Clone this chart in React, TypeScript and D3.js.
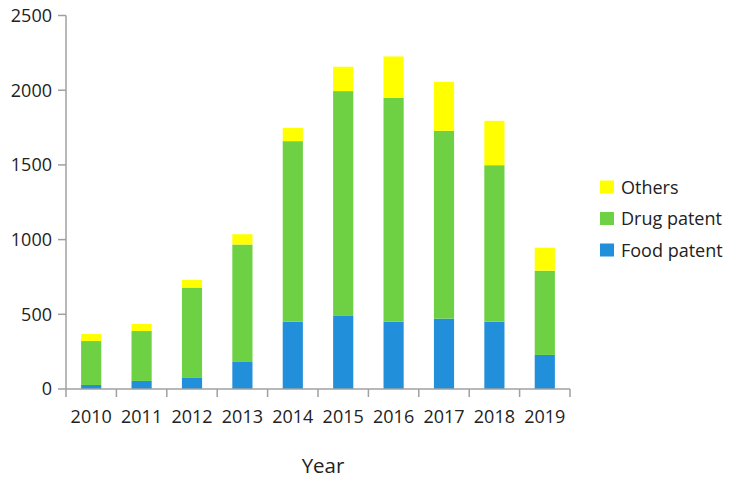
import React from "react";
import * as d3 from "d3";

// values
const years = ["2010", "2011", "2012", "2013", "2014", "2015", "2016", "2017", "2018", "2019"];
const foodPatent = [27, 54, 74, 181, 451, 489, 451, 471, 451, 228];
const drugPatent = [294, 334, 605, 786, 1208, 1505, 1498, 1257, 1047, 564];
const others = [47, 47, 51, 69, 89, 163, 277, 328, 297, 154];
const yTicks = [0, 500, 1000, 1500, 2000, 2500];

const seriesKeys = ["food", "drug", "others"];
const seriesColors: Record<string, string> = {
  food: "#228fda",
  drug: "#6dd143",
  others: "#ffff00",
};
const legendItems = [
  { key: "others", label: "Others" },
  { key: "drug", label: "Drug patent" },
  { key: "food", label: "Food patent" },
];

const W = 732;
const H = 486;
const FONT = "'Open Sans', sans-serif";
const AXIS = "#a0a0a0";

export default function App() {
  const rows = years.map((y, i) => ({
    year: y,
    food: foodPatent[i],
    drug: drugPatent[i],
    others: others[i],
  }));

  const x = d3.scaleBand().domain(years).range([66, 570]).paddingInner(0.6).paddingOuter(0.3);
  const xEdges = d3.scaleLinear().domain([0, years.length]).range([66, 570]);
  const y = d3.scaleLinear().domain([0, 2500]).range([389, 15.5]);

  const stacked = d3.stack<any>().keys(seriesKeys)(rows);

  return (
    <svg width={W} height={H} style={{ position: "absolute", left: 0, top: 0, background: "#fff" }}>
      {/* bars */}
      {stacked.map((s) => (
        <g key={s.key} fill={seriesColors[s.key]}>
          {s.map((d, i) => (
            <rect
              key={i}
              x={x(years[i])}
              width={x.bandwidth()}
              y={y(d[1])}
              height={y(d[0]) - y(d[1])}
            />
          ))}
        </g>
      ))}

      {/* y axis */}
      <line x1={66} x2={66} y1={y(2500)} y2={y(0)} stroke={AXIS} strokeWidth={1.5} />
      {yTicks.map((t) => (
        <g key={t}>
          <line x1={58} x2={66} y1={y(t)} y2={y(t)} stroke={AXIS} strokeWidth={1.5} />
          <text
            x={52}
            y={y(t)}
            dy="0.35em"
            textAnchor="end"
            fontFamily={FONT}
            fontSize={18}
            fill="#222"
          >
            {t}
          </text>
        </g>
      ))}

      {/* x axis */}
      <line x1={66} x2={570} y1={y(0)} y2={y(0)} stroke={AXIS} strokeWidth={1.5} />
      {d3.range(years.length + 1).map((i) => (
        <line
          key={i}
          x1={xEdges(i)}
          x2={xEdges(i)}
          y1={y(0)}
          y2={y(0) + 8}
          stroke={AXIS}
          strokeWidth={1.5}
        />
      ))}
      {years.map((yr) => (
        <text
          key={yr}
          x={(x(yr) as number) + x.bandwidth() / 2}
          y={422.5}
          textAnchor="middle"
          fontFamily={FONT}
          fontSize={18}
          fill="#222"
        >
          {yr}
        </text>
      ))}
      <text x={323} y={473} textAnchor="middle" fontFamily={FONT} fontSize={20.5} fill="#222">
        Year
      </text>

      {/* legend */}
      {legendItems.map((item, i) => (
        <g key={item.key} transform={`translate(600,${193.5 + i * 31.5})`}>
          <rect x={0} y={-13} width={14} height={13} fill={seriesColors[item.key]} />
          <text x={21} y={0} fontFamily={FONT} fontSize={18} fill="#222">
            {item.label}
          </text>
        </g>
      ))}
    </svg>
  );
}
